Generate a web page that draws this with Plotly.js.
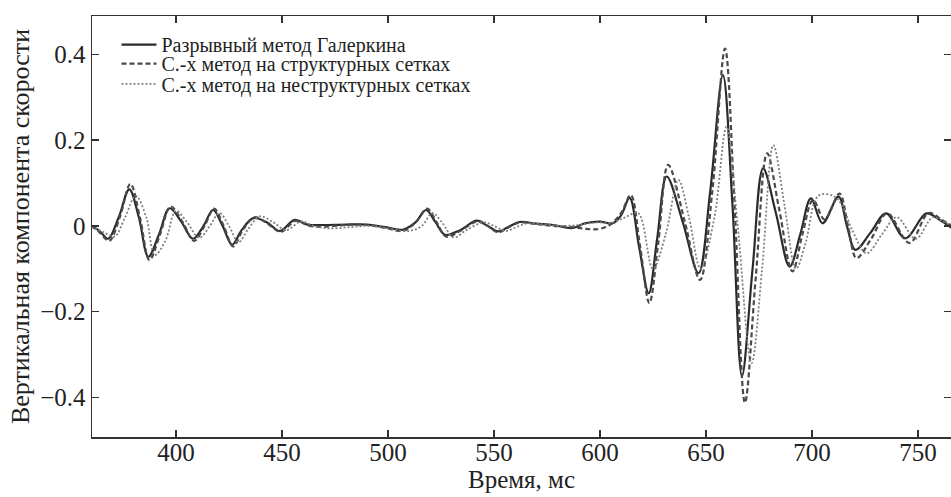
<!DOCTYPE html>
<html><head><meta charset="utf-8">
<script src="https://cdn.plot.ly/plotly-3.0.1.min.js"></script>
<style>
html,body{margin:0;padding:0;background:#fff}
</style>
</head><body><div id="chart" style="width:951px;height:497px"></div>
<script>
// Разрывный метод Галеркина (solid)
const tGal = [360,364,368,373,378,382.5,387,392,397,402.5,408,413,417.5,422,426.5,431,436.5,443,449,456,462,469,480,490,500,507,513,518,522.5,527,534,542,547,552,557,562,570,578,587,593,600,606,610,614,618.5,623,627,631.5,639,646.5,652,658,662.5,667,672,677,683,689.5,694.5,699.5,705,712.5,716.5,720.5,727.5,735,744,754,760,766];
const vGal = [0,-0.012,-0.03,0.02,0.085,0.02,-0.072,-0.02,0.041,0.01,-0.03,0.0,0.037,0.0,-0.044,-0.01,0.018,0.008,-0.012,0.014,0.003,0.002,0.003,0.003,-0.004,-0.009,0.008,0.037,0.008,-0.021,-0.01,0.012,0.0,-0.013,-0.002,0.009,0.005,0.002,-0.005,0.006,0.01,0.006,0.025,0.065,-0.05,-0.157,-0.03,0.115,0.01,-0.11,0.08,0.351,0.05,-0.35,-0.1,0.134,0.03,-0.095,-0.02,0.064,0.006,0.068,0.0,-0.056,-0.017,0.029,-0.029,0.029,0.015,-0.005];

// С.-х метод на структурных сетках (dashed)
const tStr = [360,364,368.5,373.5,378.5,383,387.5,392.5,397.5,403,408.5,413.5,418,422.5,427,431.5,437,443,449.5,456.5,463,470,480,490,500,507,513,518.5,523,527.5,534,542,547,552,557,562,570,578,587,592,598,604,610,614.5,619,623.3,627.5,632.2,640,647.2,653,659,663.5,668.4,673.5,678.9,684.5,690.8,695.5,700.5,706,713,717,721,728,735.5,746,755,761,766];
const vStr = [0,-0.015,-0.035,0.02,0.098,0.02,-0.08,-0.02,0.045,0.01,-0.035,0.0,0.04,0.0,-0.048,-0.01,0.02,0.006,-0.014,0.012,0.0,-0.002,0.002,0.002,-0.006,-0.012,0.008,0.04,0.008,-0.025,-0.012,0.01,0.0,-0.015,-0.003,0.008,0.004,0.0,-0.003,-0.006,-0.008,0.0,0.03,0.072,-0.05,-0.18,-0.04,0.142,0.01,-0.126,0.08,0.413,0.05,-0.412,-0.12,0.169,0.04,-0.106,-0.02,0.06,0.015,0.075,0.0,-0.075,-0.03,0.029,-0.04,0.03,0.015,0.0];

// С.-х метод на неструктурных сетках (dotted)
const tUns = [360,366,371,376,381,386,390,395,400,405,411,416,420.5,425,429.5,434,439.5,446,452,459,465,472,482,492,502,510,516,521,525.5,531,537,545,550,555.5,561,566,574,582,590,598,606,612,618,625,631,637,642,647.5,654,659.7,665,671.5,676.5,681.8,687,692.5,697,703,710,714,719,725.8,733,740,749,757,762,766];
const vUns = [-0.002,-0.015,-0.025,0.02,0.07,0.02,-0.068,-0.035,0.035,0.01,-0.028,0.0,0.03,0.0,-0.038,-0.008,0.022,0.008,-0.01,0.01,0.0,-0.006,-0.003,0.0,-0.008,-0.012,0.0,0.03,0.008,-0.027,-0.01,0.008,0.0,-0.012,-0.002,0.006,0.003,0.0,0.002,0.008,0.008,0.02,0.03,-0.10,-0.02,0.107,0.02,-0.10,0.02,0.231,0.0,-0.32,-0.1,0.188,0.05,-0.10,-0.04,0.07,0.07,0.05,-0.01,-0.064,-0.02,0.02,-0.03,0.02,0.01,0.0];

const names = ["Разрывный метод Галеркина","С.-х метод на структурных сетках","С.-х метод на неструктурных сетках"];
const xTicks = [400,450,500,550,600,650,700,750];
const yTicks = [-0.4,-0.2,0,0.2,0.4];
const yTickText = ["\u22120.4","\u22120.2","0","0.2","0.4"];

const font = "Liberation Serif, Times New Roman, DejaVu Serif, serif";
const traces = [
  {x:tGal,y:vGal,name:names[0],legend:"legend",mode:"lines",line:{color:"#2b2b2b",width:2.2,shape:"spline",smoothing:1}},
  {x:tStr,y:vStr,name:names[1],legend:"legend2",mode:"lines",line:{color:"#4a4a4a",width:2.2,dash:"5px,3px",shape:"spline",smoothing:1}},
  {x:tUns,y:vUns,name:names[2],legend:"legend3",mode:"lines",line:{color:"#808080",width:1.8,dash:"2px,2px",shape:"spline",smoothing:1}}
];
const axisCommon = {showgrid:false,zeroline:false,showline:true,linecolor:"#333",linewidth:1.5,mirror:"ticks",ticks:"inside",ticklen:7,tickcolor:"#333",tickwidth:1.3,tickfont:{family:font,size:25,color:"#222"}};
function leg(yc){return {x:0.0285,y:yc,xanchor:"left",yanchor:"middle",bgcolor:"rgba(0,0,0,0)",font:{family:font,size:20,color:"#222"},itemwidth:35};}
const layout = {
  width:951,height:497,
  margin:{l:92,r:0,t:16,b:60},
  paper_bgcolor:"#fff",plot_bgcolor:"#fff",
  font:{family:font,color:"#222"},
  xaxis:Object.assign({},axisCommon,{range:[360.4,765.6],tickvals:xTicks,ticklabelstandoff:-8,title:{text:"Время, мс",font:{family:font,size:25,color:"#222"},standoff:0}}),
  yaxis:Object.assign({},axisCommon,{range:[-0.492,0.489],tickvals:yTicks,ticktext:yTickText,title:{text:"Вертикальная компонента скорости",font:{family:font,size:26,color:"#222"},standoff:3}}),
  showlegend:true,
  legend:leg(0.932),legend2:leg(0.887),legend3:leg(0.839)
};
Plotly.newPlot("chart",traces,layout,{displayModeBar:false,staticPlot:true});
</script></body></html>
